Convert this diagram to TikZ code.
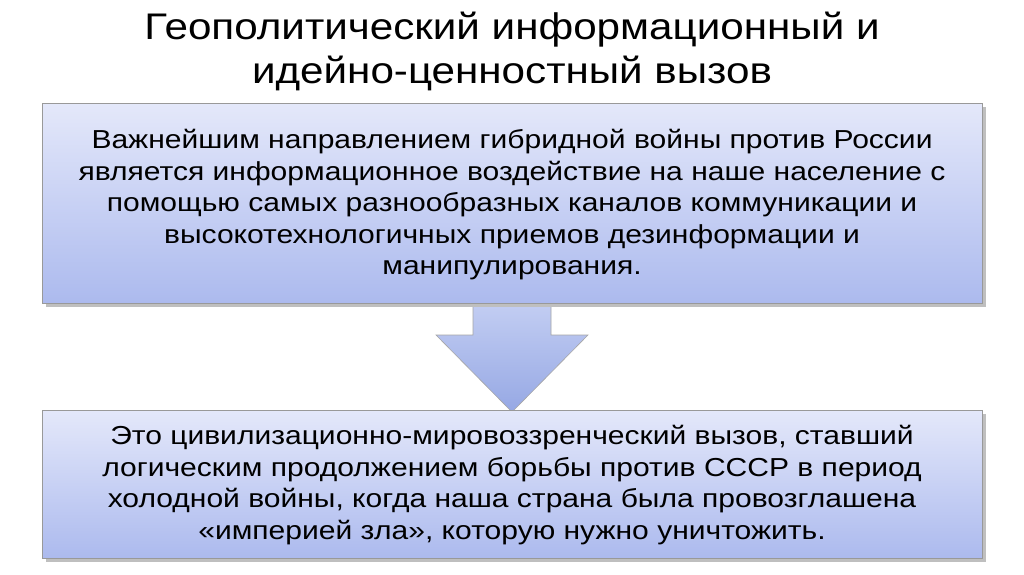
\documentclass[tikz,border=0pt]{standalone}
\usepackage{fontspec}
\setmainfont{Liberation Sans}
\begin{document}
\begin{tikzpicture}[x=1pt,y=-1pt,
  body/.style={align=center, font=\fontsize{26}{31.5}\selectfont, xscale=1.155},
  panel/.style={draw=black!40, line width=0.8pt, top color={rgb,255:red,228;green,232;blue,250}, bottom color={rgb,255:red,172;green,186;blue,238}}]
\useasboundingbox (0,0) rectangle (1024,574);
\fill[white] (0,0) rectangle (1024,574);
\node[font=\fontsize{37}{44}\selectfont, align=center, xscale=1.14] (title) at (512,51) {Геополитический информационный и\\идейно-ценностный вызов};
\shade[draw=black!35, line width=0.6pt, top color={rgb,255:red,200;green,210;blue,244}, bottom color={rgb,255:red,150;green,168;blue,228}]
  (473,290) -- (551,290) -- (551,335) -- (588,335) -- (512,412) -- (436,335) -- (473,335) -- cycle;
\fill[black!25] (46,107) rectangle (986,307);
\shade[panel] (42,103) rectangle (982,303);
\node[body] (t1) at (512,205) {Важнейшим направлением гибридной войны против России\\является информационное воздействие на наше население с\\помощью самых разнообразных каналов коммуникации и\\высокотехнологичных приемов дезинформации и\\манипулирования.};
\fill[black!25] (46,414) rectangle (986,562);
\shade[panel] (42,410) rectangle (982,558);
\node[body] (t2) at (512,485) {Это цивилизационно-мировоззренческий вызов, ставший\\логическим продолжением борьбы против СССР в период\\холодной войны, когда наша страна была провозглашена\\«империей зла», которую нужно уничтожить.};
\end{tikzpicture}
\end{document}
